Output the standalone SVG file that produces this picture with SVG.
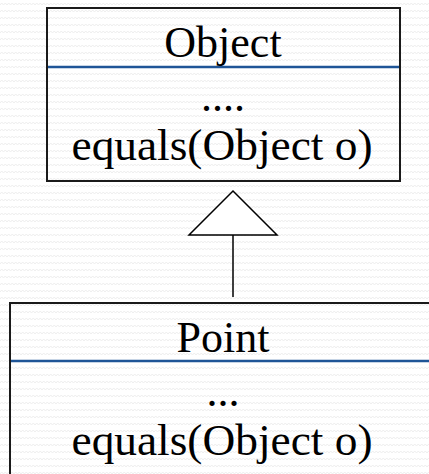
<svg xmlns="http://www.w3.org/2000/svg" width="429" height="474" viewBox="0 0 429 474">
  <defs>
    <pattern id="bg" width="7" height="7" patternUnits="userSpaceOnUse">
      <rect width="7" height="7" fill="#ffffff"/>
      <path d="M0,5 L1.75,3 L3.5,5 L5.25,3 L7,5" fill="none" stroke="#eeeeee" stroke-width="1"/>
    </pattern>
  </defs>
  <style>
    .box { fill: none; stroke: #1a1a1a; stroke-width: 2; }
    .div { stroke: #1F5597; stroke-width: 2.5; }
    .t { font-family: "Liberation Serif", "DejaVu Serif", serif; font-size: 44px; fill: #000; text-anchor: middle; }
    .conn { fill: #ffffff; stroke: #000; stroke-width: 1.5; }
  </style>
  <rect width="429" height="474" fill="url(#bg)"/>

  <g id="object">
    <rect class="box" x="47" y="8" width="353" height="173"/>
    <line class="div" x1="48" y1="67" x2="399" y2="67"/>
    <text class="t" x="223" y="57">Object</text>
    <text class="t" x="223" y="111">....</text>
    <text class="t" x="222" y="160" textLength="301" lengthAdjust="spacingAndGlyphs">equals(Object o)</text>
  </g>

  <g id="point">
    <rect class="box" x="10" y="303" width="440" height="190"/>
    <line class="div" x1="11" y1="361" x2="429" y2="361"/>
    <text class="t" x="223" y="352">Point</text>
    <text class="t" x="223" y="406">...</text>
    <text class="t" x="222" y="455" textLength="301" lengthAdjust="spacingAndGlyphs">equals(Object o)</text>
  </g>

  <g id="connectors">
    <line class="conn" x1="233" y1="235" x2="233" y2="297"/>
    <polygon class="conn" points="233,191 277,235 189,235"/>
  </g>
</svg>
